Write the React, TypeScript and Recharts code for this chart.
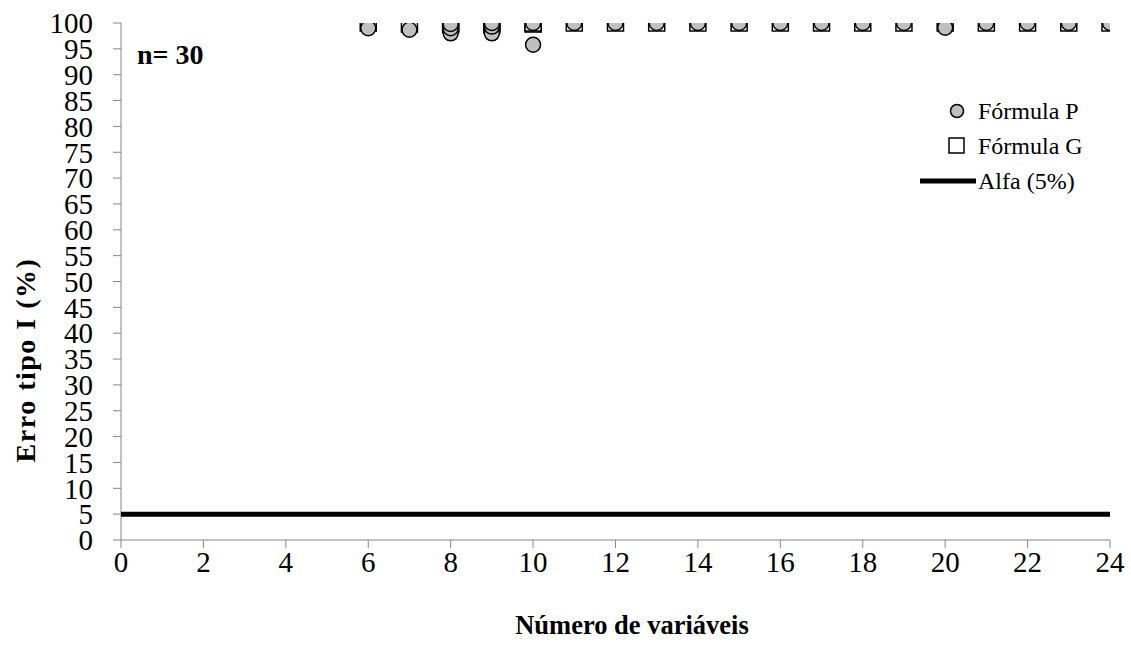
import {
  ScatterChart,
  Scatter,
  XAxis,
  YAxis,
  Customized,
} from "recharts";

// ── Data ──
const X_TICKS = [0, 2, 4, 6, 8, 10, 12, 14, 16, 18, 20, 22, 24];
const Y_TICKS = [0, 5, 10, 15, 20, 25, 30, 35, 40, 45, 50, 55, 60, 65, 70, 75, 80, 85, 90, 95, 100];

// Fórmula P (circles)
const pX = [6, 7, 8, 8, 8, 9, 9, 9, 10, 10, 11, 12, 13, 14, 15, 16, 17, 18, 19, 20, 21, 22, 23, 24];
const pY = [99.0, 98.7, 98.0, 99.0, 99.8, 98.0, 99.3, 100, 95.8, 100, 100, 100, 100, 100, 100, 100, 100, 100, 100, 99.1, 100, 100, 100, 100];

// Fórmula G (squares)
const gX = [6, 7, 8, 8, 9, 9, 10, 10, 11, 12, 13, 14, 15, 16, 17, 18, 19, 20, 21, 22, 23, 24];
const gY = [100, 99.8, 99.7, 100, 99.6, 100, 99.8, 100, 100, 100, 100, 100, 100, 100, 100, 100, 100, 100, 100, 100, 100, 100];

// Alfa (5%)
const alfaX = [0, 24];
const alfaY = [5, 5];

const FONT = "Liberation Serif, Times New Roman, serif";
const AXIS = "#868686";
const GREY = "#C0C0C0";

const pData = pX.map((x, i) => ({ x, y: pY[i] }));
const gData = gX.map((x, i) => ({ x, y: gY[i] }));
const alfaData = alfaX.map((x, i) => ({ x, y: alfaY[i] }));

const Circle = (props: any) => (
  <circle cx={props.cx} cy={props.cy} r={7.5} fill={GREY} stroke="#000" strokeWidth={1.5} />
);

const Square = (props: any) => (
  <rect x={props.cx - 8} y={props.cy - 8} width={16} height={16} fill="#fff" stroke="#000" strokeWidth={1.5} />
);

// legend, panel note and axis titles
const Legendish = () => (
  <g style={{ fontFamily: FONT }} fontSize={24} fill="#000">
    <circle cx={957} cy={111} r={6.5} fill={GREY} stroke="#000" strokeWidth={1.5} />
    <text x={978} y={111} dominantBaseline="central">Fórmula P</text>
    <rect x={949} y={138} width={15} height={15} fill="#fff" stroke="#000" strokeWidth={1.5} />
    <text x={978} y={146} dominantBaseline="central">Fórmula G</text>
    <line x1={920} x2={976} y1={181} y2={181} stroke="#000" strokeWidth={5} />
    <text x={978} y={181} dominantBaseline="central">Alfa (5%)</text>
    <text x={137} y={54} fontWeight="bold" fontSize={28} dominantBaseline="central">n= 30</text>
    <text
      x={0}
      y={0}
      transform="translate(25, 360) rotate(-90)"
      textAnchor="middle"
      dominantBaseline="central"
      fontWeight="bold"
      fontSize={28}
      letterSpacing={1.5}
    >
      Erro tipo I (%)
    </text>
    <text x={632} y={625} textAnchor="middle" dominantBaseline="central" fontWeight="bold" fontSize={26.5}>
      Número de variáveis
    </text>
  </g>
);

export default function App() {
  return (
    <div style={{ position: "absolute", left: 0, top: 0, background: "#fff", fontFamily: FONT }}>
      <ScatterChart width={1131} height={659} margin={{ top: 23, right: 21, left: 0, bottom: 0 }}>
        <XAxis
          type="number"
          dataKey="x"
          domain={[0, 24]}
          ticks={X_TICKS}
          height={119}
          stroke={AXIS}
          tickSize={8}
          tickMargin={3}
          tick={{ fontSize: 29, fill: "#000", style: { fontFamily: FONT } }}
          allowDataOverflow
        />
        <YAxis
          type="number"
          dataKey="y"
          domain={[0, 100]}
          ticks={Y_TICKS}
          interval={0}
          width={121}
          stroke={AXIS}
          tickSize={8}
          tickMargin={20}
          tick={{ fontSize: 29, fill: "#000", style: { fontFamily: FONT } }}
          allowDataOverflow
        />
        <Scatter
          data={alfaData}
          line={{ stroke: "#000", strokeWidth: 5 }}
          shape={() => null}
          isAnimationActive={false}
        />
        <Scatter data={gData} shape={Square} isAnimationActive={false} />
        <Scatter data={pData} shape={Circle} isAnimationActive={false} />
        <Customized component={Legendish} />
      </ScatterChart>
    </div>
  );
}
